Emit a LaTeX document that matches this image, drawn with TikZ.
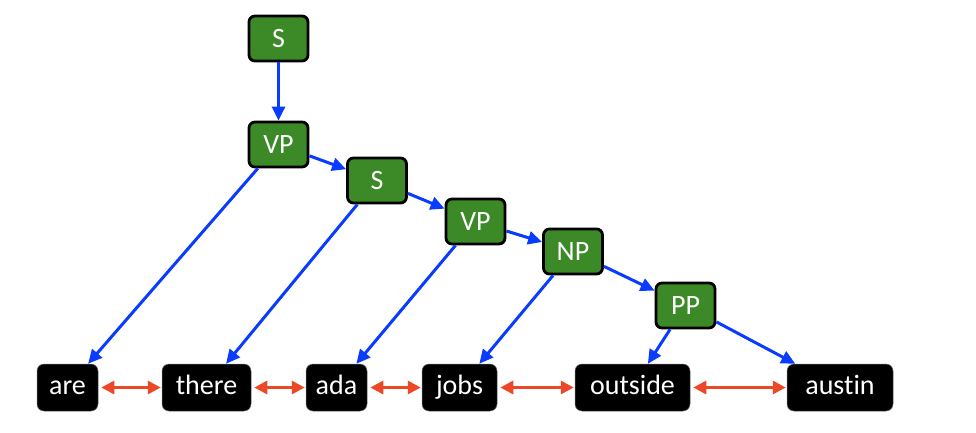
\documentclass[tikz,border=0pt]{standalone}
\usepackage{fontspec}
\setmainfont{Carlito}[Ligatures=NoCommon]
\usetikzlibrary{arrows.meta}
\definecolor{treegreen}{RGB}{60,137,40}
\definecolor{edgeblue}{RGB}{10,60,255}
\definecolor{linkred}{RGB}{236,72,40}
\begin{document}
\begin{tikzpicture}[x=1pt,y=-1pt,
  catbox/.style={draw=black, line width=2.8pt, fill=treegreen, rounded corners=6pt,
    text=white, minimum width=59pt, minimum height=45pt, inner sep=0pt,
    font=\fontsize{28}{30}\selectfont, text height=18pt, text depth=0pt},
  wordbox/.style={draw=black!60, line width=0.5pt, fill=black, rounded corners=7pt,
    text=white, minimum height=47pt, inner sep=0pt,
    font=\fontsize{28}{30}\selectfont, text height=19pt, text depth=5pt},
  treeedge/.style={draw=edgeblue, line width=3pt, -{Triangle[length=14pt,width=13pt]}},
  linkedge/.style={draw=linkred, line width=3pt, {Triangle[length=13pt,width=13pt]}-{Triangle[length=13pt,width=13pt]}, shorten <=3pt, shorten >=1pt}
]
\useasboundingbox (0,0) rectangle (976,432);
\node[catbox] (S1) at (278.5,38.5) {S};
\node[catbox] (VP1) at (278.5,144.5) {VP};
\node[catbox] (S2) at (377,180.5) {S};
\node[catbox] (VP2) at (475.5,221.5) {VP};
\node[catbox] (NP) at (573,251.5) {NP};
\node[catbox] (PP) at (685.5,305.5) {PP};

\node[wordbox, minimum width=61pt] (are) at (67.5,387.5) {are};
\node[wordbox, minimum width=89pt] (there) at (206.5,387.5) {there};
\node[wordbox, minimum width=61pt] (ada) at (336.5,387.5) {ada};
\node[wordbox, minimum width=75pt] (jobs) at (459.5,387.5) {jobs};
\node[wordbox, minimum width=115pt] (outside) at (632.5,387.5) {outside};
\node[wordbox, minimum width=106pt] (austin) at (840,387.5) {austin};

\draw[treeedge] (S1) -- (VP1);
\draw[treeedge] (VP1) -- (S2);
\draw[treeedge] (S2) -- (VP2);
\draw[treeedge] (VP2) -- (NP);
\draw[treeedge] (NP) -- (PP);
\draw[treeedge] (VP1) -- (are);
\draw[treeedge] (S2) -- (there);
\draw[treeedge] (VP2) -- (ada);
\draw[treeedge] (NP) -- (jobs);
\draw[treeedge] (PP) -- (outside);
\draw[treeedge] (PP) -- (austin);

\draw[linkedge] (are) -- (there);
\draw[linkedge] (there) -- (ada);
\draw[linkedge] (ada) -- (jobs);
\draw[linkedge] (jobs) -- (outside);
\draw[linkedge] (outside) -- (austin);
\end{tikzpicture}
\end{document}
